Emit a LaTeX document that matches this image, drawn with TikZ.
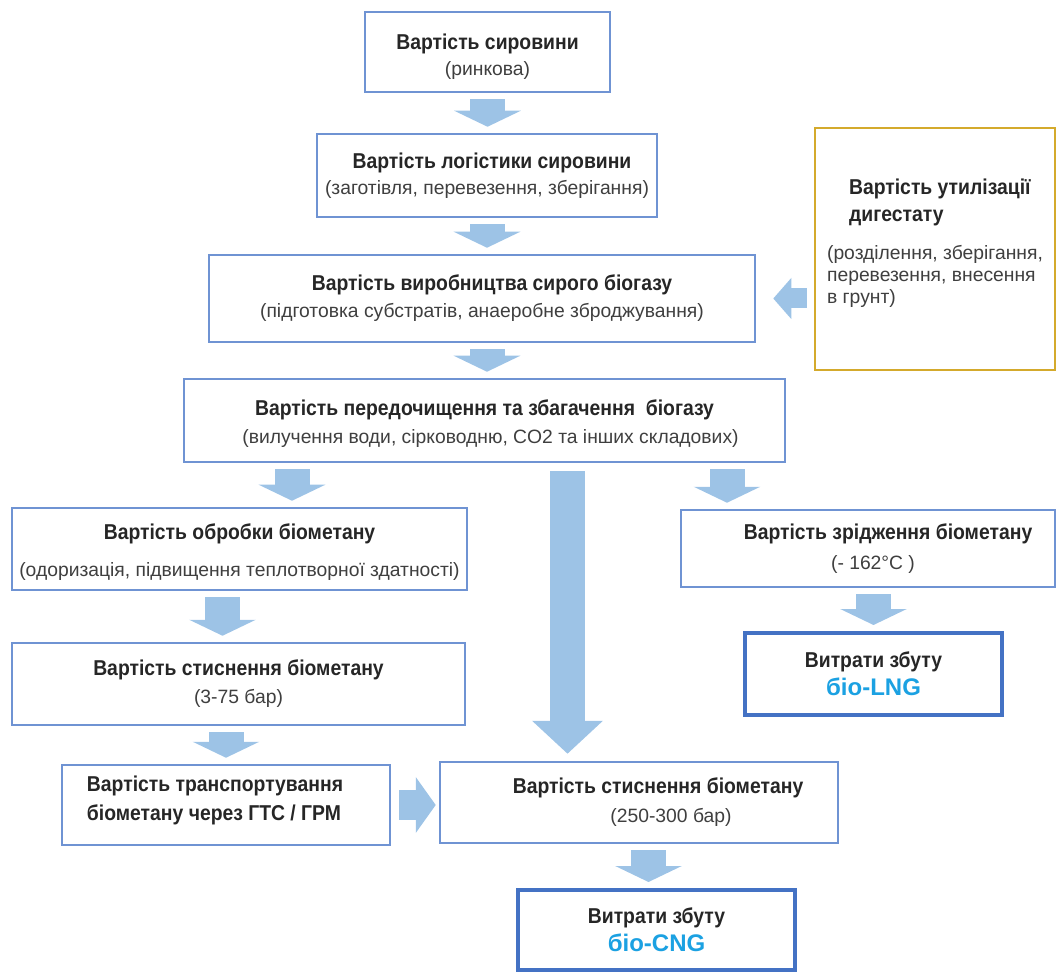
\documentclass[tikz,border=0pt]{standalone}
\usepackage{fontspec}
\setmainfont{Liberation Sans}
\newfontfamily\headfont[FakeStretch=0.9]{Liberation Sans}
\usetikzlibrary{arrows.meta, calc}
\definecolor{boxblue}{HTML}{6F93D3}
\definecolor{salesblue}{HTML}{4472C4}
\definecolor{arrowblue}{HTML}{9DC3E6}
\definecolor{digold}{HTML}{D4AA2C}
\definecolor{textgray}{HTML}{262626}
\definecolor{notegray}{HTML}{3F3F3F}
\definecolor{biocyan}{HTML}{1BA1E2}
\newcommand{\boxhead}[1]{{\headfont\bfseries\fontsize{21.5pt}{28pt}\selectfont #1}}
\newcommand{\boxsub}[1]{{\color{notegray}\fontsize{19.3pt}{28pt}\selectfont #1}}
\newcommand{\boxbio}[1]{{\color{biocyan}\bfseries\fontsize{24pt}{28pt}\selectfont #1}}
\tikzstyle{costbox} = [rectangle, 
draw=boxblue, 
line width=2.5pt, 
fill=white, 
align=center, 
font=\fontsize{19pt}{28pt}\selectfont, 
text=textgray]
\tikzstyle{salesbox} = [rectangle, 
draw=salesblue, 
line width=4pt, 
fill=white, 
align=center, 
font=\fontsize{19pt}{28pt}\selectfont, 
text=textgray]
\tikzstyle{digbox} = [rectangle, 
draw=digold, 
line width=2.5pt, 
fill=white, 
align=left, 
font=\fontsize{19pt}{22pt}\selectfont, 
text=textgray]
\tikzstyle{flowarrow} = [arrowblue, line width=35pt, -{Triangle[length=16pt, width=66pt]}, shorten <=6pt, shorten >=6pt]
\tikzstyle{bigflow} = [arrowblue, line width=35pt, -{Triangle[length=33pt, width=69pt]}, shorten <=8pt, shorten >=7pt]
\tikzstyle{sideflow} = [arrowblue, line width=30pt, -{Triangle[length=20pt, width=55pt]}, shorten <=8pt, shorten >=3pt]
\tikzstyle{digflow} = [arrowblue, line width=20pt, -{Triangle[length=18pt, width=40pt]}, shorten <=7pt, shorten >=17pt]

\begin{document}
\begin{tikzpicture}[x=1pt, y=-1pt]
\useasboundingbox (0,0) rectangle (1058,973);

% main chain
\node (raw) [costbox, minimum width=245pt, minimum height=80pt] at (487.5,52) {\rule{0pt}{26pt}\boxhead{Вартість сировини}\\[-2pt]\boxsub{(ринкова)}};
\node (logist) [costbox, minimum width=340pt, minimum height=83pt] at (487,175.5) {\hspace*{10pt}\boxhead{Вартість логістики сировини}\\[-2pt]\boxsub{(заготівля, перевезення, зберігання)}};
\node (prod) [costbox, minimum width=546pt, minimum height=87pt] at (482,298.5) {\hspace*{20pt}\boxhead{Вартість виробництва сирого біогазу}\\[-1pt]\boxsub{(підготовка субстратів, анаеробне зброджування)}};
\node (purif) [costbox, minimum width=601pt, minimum height=83pt] at (484.5,420.5) {\rule{0pt}{22pt}\boxhead{Вартість передочищення та збагачення\ \ біогазу}\\\hspace*{12pt}\boxsub{(вилучення води, сірководню, CO2 та інших складових)}};
\node (dig) [digbox, minimum width=240pt, minimum height=242pt] at (935,249) {\hspace*{22pt}\boxhead{Вартість утилізації}\\[5pt]\hspace*{22pt}\boxhead{дигестату}\\[16pt]\boxsub{(розділення, зберігання,}\\\boxsub{перевезення, внесення}\\\boxsub{в грунт)}\rule[-15pt]{0pt}{15pt}};

% left branch
\node (treat) [costbox, minimum width=455pt, minimum height=82pt] at (239.5,549) {\rule{0pt}{22pt}\boxhead{Вартість обробки біометану}\\[9pt]\boxsub{(одоризація, підвищення теплотворної здатності)}};
\node (comp1) [costbox, minimum width=453pt, minimum height=82pt] at (238.5,684) {\boxhead{Вартість стиснення біометану}\\\boxsub{(3-75 бар)}};
\node (transp) [costbox, minimum width=328pt, minimum height=80pt, align=left] at (226,805) {\boxhead{Вартість транспортування}\hspace*{22pt}\\[1pt]\boxhead{біометану через ГТС / ГРМ}\rule[-14pt]{0pt}{14pt}};
\node (comp2) [costbox, minimum width=398pt, minimum height=81pt] at (639,802.5) {\hspace*{38pt}\boxhead{Вартість стиснення біометану}\\[1pt]\hspace*{64pt}\boxsub{(250-300 бар)}};
\node (cng) [salesbox, minimum width=277pt, minimum height=80pt] at (656.5,930) {\boxhead{Витрати збуту}\\\boxbio{біо-CNG}};

% right branch
\node (liq) [costbox, minimum width=374pt, minimum height=77pt] at (868,548.5) {\hspace*{40pt}\boxhead{Вартість зрідження біометану}\\[2pt]\hspace*{10pt}\boxsub{(- 162°C )}};
\node (lng) [salesbox, minimum width=257pt, minimum height=82pt] at (873.5,674) {\boxhead{Витрати збуту}\\\boxbio{біо-LNG}};

\draw [flowarrow] (raw.south) -- (raw.south |- logist.north);
\draw [flowarrow] (logist.south) -- (logist.south |- prod.north);
\draw [flowarrow] (logist.south |- prod.south) -- (logist.south |- purif.north);
\draw [digflow] (dig.west |- prod.east) -- (prod.east);
\draw [flowarrow] ($(treat.north |- purif.south)+(52.5,0)$) -- ($(treat.north)+(52.5,0)$);
\draw [bigflow] ($(comp2.north |- purif.south)+(-71.5,0)$) -- ($(comp2.north)+(-71.5,0)$);
\draw [flowarrow] ($(liq.north |- purif.south)+(-141,0)$) -- ($(liq.north)+(-141,0)$);
\draw [flowarrow] ($(comp1.north |- treat.south)+(-16,0)$) -- ($(comp1.north)+(-16,0)$);
\draw [flowarrow] (transp.north |- comp1.south) -- (transp.north);
\draw [sideflow] (transp.east) -- (transp.east -| comp2.west);
\draw [flowarrow] ($(cng.north |- comp2.south)+(-8,0)$) -- ($(cng.north)+(-8,0)$);
\draw [flowarrow] (lng.north |- liq.south) -- (lng.north);

\end{tikzpicture}
\end{document}
